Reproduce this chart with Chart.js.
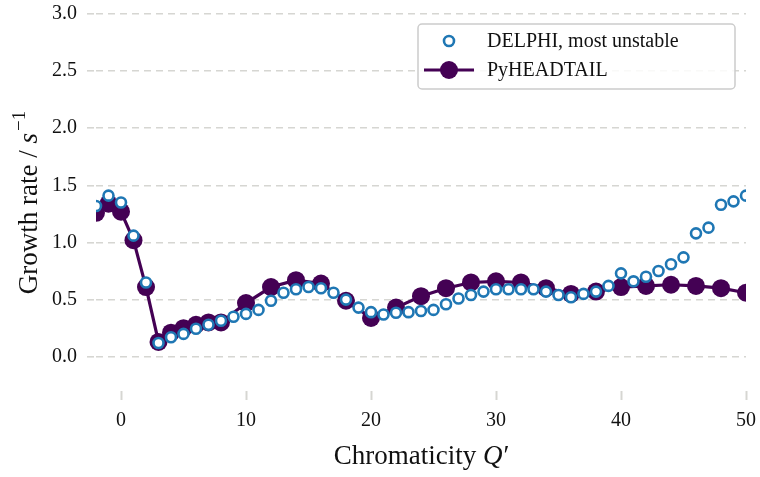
<!DOCTYPE html>
<html>
<head>
<meta charset="utf-8">
<script src="https://cdn.jsdelivr.net/npm/chart.js@4.4.1/dist/chart.umd.min.js"></script>
<style>
  html, body { margin: 0; padding: 0; background: #fff; }
  #wrap { width: 760px; height: 477px; }
</style>
</head>
<body>
<div id="wrap"><canvas id="growthRate"></canvas></div>
<script>
// DELPHI, most unstable mode
var delphiQ = [-2, -1, 0, 1, 2, 3, 4, 5, 6, 7, 8, 9, 10, 11, 12, 13, 14, 15, 16, 17, 18, 19, 20,
  21, 22, 23, 24, 25, 26, 27, 28, 29, 30, 31, 32, 33, 34, 35, 36, 37, 38, 39, 40,
  41, 42, 43, 44, 45, 46, 47, 48, 49, 50];
var delphiRate = [1.32, 1.41, 1.35, 1.06, 0.65, 0.12, 0.17, 0.20, 0.245, 0.28, 0.315, 0.35, 0.375, 0.41, 0.49, 0.56, 0.59, 0.61, 0.60, 0.56, 0.50, 0.43, 0.39,
  0.37, 0.385, 0.39, 0.40, 0.41, 0.46, 0.51, 0.54, 0.57, 0.59, 0.59, 0.59, 0.59, 0.57, 0.54, 0.52, 0.55, 0.57, 0.62, 0.73,
  0.66, 0.70, 0.75, 0.81, 0.87, 1.08, 1.13, 1.33, 1.36, 1.41];

// PyHEADTAIL simulation
var pyhtQ = [-2, -1, 0, 1, 2, 3, 4, 5, 6, 7, 8, 10, 12, 14, 16, 18, 20, 22, 24, 26, 28, 30, 32, 34, 36, 38, 40, 42, 44, 46, 48, 50];
var pyhtRate = [1.26, 1.34, 1.27, 1.02, 0.61, 0.13, 0.21, 0.25, 0.28, 0.30, 0.30, 0.47, 0.61, 0.67, 0.64, 0.49, 0.34, 0.43, 0.53, 0.60, 0.65, 0.66, 0.65, 0.60, 0.55, 0.57, 0.61, 0.62, 0.63, 0.62, 0.60, 0.56];

var xTicks = [0, 10, 20, 30, 40, 50];
var yTicks = [0.0, 0.5, 1.0, 1.5, 2.0, 2.5, 3.0];

var serif = '"Liberation Serif", "DejaVu Serif", serif';
var gridColor = '#d6d6d2';

function toPoints(xs, ys) {
  var pts = [];
  for (var i = 0; i < xs.length; i++) pts.push({x: xs[i], y: ys[i]});
  return pts;
}

// legend box drawn by hand so the line + marker sample looks like matplotlib's
var legendBox = {
  id: 'legendBox',
  afterDraw: function(chart) {
    var c = chart.ctx;
    var ds = chart.data.datasets;
    var x0 = 418, y0 = 24, w = 317, h = 65;
    c.save();
    c.fillStyle = 'rgba(255,255,255,0.85)';
    c.strokeStyle = '#cccccc';
    c.lineWidth = 1.5;
    c.beginPath();
    c.roundRect(x0, y0, w, h, 4);
    c.fill();
    c.stroke();

    // DELPHI sample
    c.beginPath();
    c.arc(449, 41, ds[0].pointRadius, 0, Math.PI * 2);
    c.fillStyle = ds[0].pointBackgroundColor;
    c.fill();
    c.lineWidth = ds[0].pointBorderWidth;
    c.strokeStyle = ds[0].pointBorderColor;
    c.stroke();

    // PyHEADTAIL sample
    c.beginPath();
    c.moveTo(424, 70);
    c.lineTo(474, 70);
    c.lineWidth = ds[1].borderWidth;
    c.strokeStyle = ds[1].borderColor;
    c.stroke();
    c.beginPath();
    c.arc(449, 70, ds[1].pointRadius, 0, Math.PI * 2);
    c.fillStyle = ds[1].pointBackgroundColor;
    c.fill();

    c.fillStyle = '#111';
    c.font = '20px ' + serif;
    c.textBaseline = 'middle';
    c.textAlign = 'left';
    c.fillText(ds[0].label, 487, 42);
    c.fillText(ds[1].label, 487, 71);
    c.restore();
  }
};

// axis titles with italic math parts
var axisTitles = {
  id: 'axisTitles',
  afterDraw: function(chart) {
    var c = chart.ctx;
    var a = chart.chartArea;
    var fs = 27;
    c.save();
    c.fillStyle = '#111';
    c.textBaseline = 'alphabetic';
    c.textAlign = 'left';

    // x title
    var t1 = 'Chromaticity ', t2 = 'Q', t3 = '\u2032';
    c.font = fs + 'px ' + serif;
    var w1 = c.measureText(t1).width;
    c.font = 'italic ' + fs + 'px ' + serif;
    var w2 = c.measureText(t2).width;
    c.font = fs + 'px ' + serif;
    var w3 = c.measureText(t3).width;
    var xs = (a.left + a.right) / 2 - (w1 + w2 + w3) / 2;
    var base = 464;
    c.font = fs + 'px ' + serif;
    c.fillText(t1, xs, base);
    c.font = 'italic ' + fs + 'px ' + serif;
    c.fillText(t2, xs + w1, base);
    c.font = fs + 'px ' + serif;
    c.fillText(t3, xs + w1 + w2 + 1, base);

    // y title
    var s1 = 'Growth rate / ', s2 = 's', s3 = '\u22121';
    c.font = fs + 'px ' + serif;
    var v1 = c.measureText(s1).width;
    c.font = 'italic ' + fs + 'px ' + serif;
    var v2 = c.measureText(s2).width;
    c.font = Math.round(fs * 0.7) + 'px ' + serif;
    var v3 = c.measureText(s3).width;
    c.translate(37, (a.top + a.bottom) / 2);
    c.rotate(-Math.PI / 2);
    var ys = -(v1 + v2 + v3 + 2) / 2;
    c.font = fs + 'px ' + serif;
    c.fillText(s1, ys, 0);
    c.font = 'italic ' + fs + 'px ' + serif;
    c.fillText(s2, ys + v1, 0);
    c.font = Math.round(fs * 0.7) + 'px ' + serif;
    c.fillText(s3, ys + v1 + v2 + 2, -12);
    c.restore();
  }
};

var ctx = document.getElementById('growthRate').getContext('2d');

var growthChart = new Chart(ctx, {
  type: 'line',
  data: {
    datasets: [
      {
        label: 'DELPHI, most unstable',
        data: toPoints(delphiQ, delphiRate),
        showLine: false,
        pointRadius: 5,
        pointBorderWidth: 2.6,
        pointBackgroundColor: '#ffffff',
        pointBorderColor: '#1f77b4',
        borderColor: '#1f77b4',
        backgroundColor: '#ffffff',
        clip: 0
      },
      {
        label: 'PyHEADTAIL',
        data: toPoints(pyhtQ, pyhtRate),
        borderColor: '#440154',
        backgroundColor: '#440154',
        borderWidth: 3.2,
        pointRadius: 9,
        pointBorderWidth: 0,
        pointBackgroundColor: '#440154',
        pointBorderColor: '#440154',
        tension: 0,
        clip: 0
      }
    ]
  },
  options: {
    responsive: true,
    maintainAspectRatio: false,
    animation: false,
    layout: { padding: { left: 0, right: 14, top: 14, bottom: 0 } },
    plugins: {
      legend: { display: false },
      tooltip: { enabled: false }
    },
    scales: {
      x: {
        type: 'linear',
        min: -2,
        max: 50,
        afterBuildTicks: function(scale) {
          scale.ticks = xTicks.map(function(v) { return {value: v}; });
        },
        afterFit: function(scale) {
          scale.height = 86;
          scale.paddingLeft = 0;
          scale.paddingRight = 0;
        },
        border: { display: false },
        grid: {
          drawOnChartArea: false,
          drawTicks: true,
          tickLength: 9,
          tickColor: gridColor,
          tickWidth: 2
        },
        ticks: {
          padding: 9,
          color: '#111',
          font: { family: serif, size: 20 },
          maxRotation: 0
        }
      },
      y: {
        type: 'linear',
        min: -0.3,
        max: 3.0,
        afterBuildTicks: function(scale) {
          scale.ticks = yTicks.map(function(v) { return {value: v}; });
        },
        afterFit: function(scale) {
          scale.width = 96;
          scale.paddingTop = 0;
          scale.paddingBottom = 0;
        },
        border: { display: false, dash: [7, 5] },
        grid: {
          color: gridColor,
          lineWidth: 1.6,
          drawTicks: true,
          tickLength: 9,
          tickColor: gridColor,
          tickBorderDash: [7, 5]
        },
        ticks: {
          padding: 10,
          color: '#111',
          font: { family: serif, size: 20 },
          callback: function(v) { return v.toFixed(1); }
        }
      }
    }
  },
  plugins: [axisTitles, legendBox]
});
</script>
</body>
</html>
